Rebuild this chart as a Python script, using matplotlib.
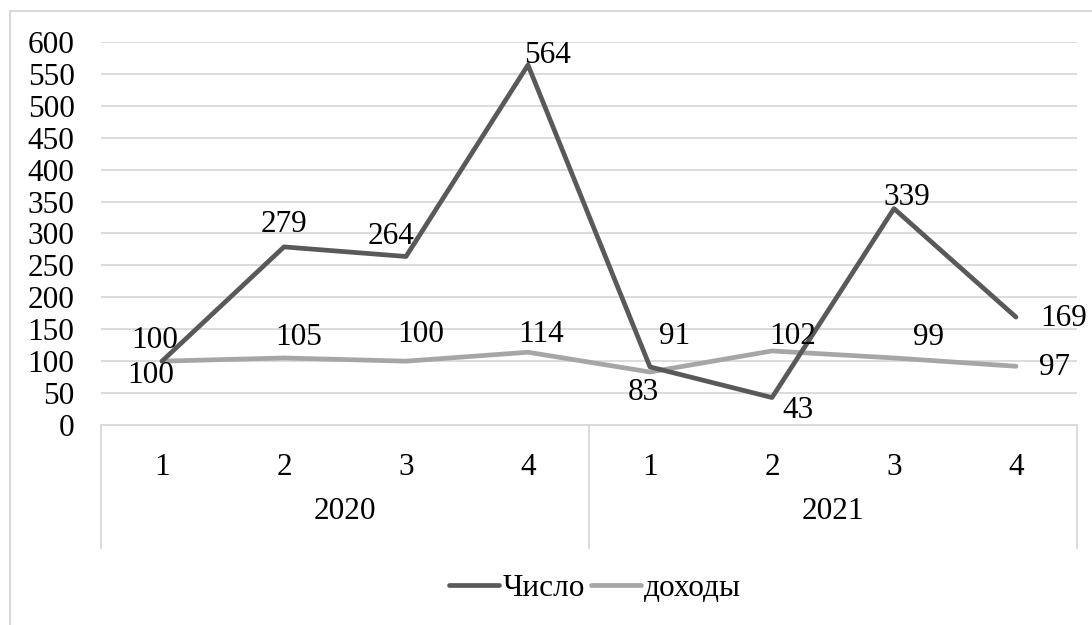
import numpy as np
import matplotlib
matplotlib.use('Agg')
import matplotlib.pyplot as plt
from matplotlib.patches import Rectangle

# data
quarters = ['1', '2', '3', '4', '1', '2', '3', '4']
years = ['2020', '2021']
chislo = [100, 279, 264, 564, 91, 43, 339, 169]
dohody = [100, 105, 100, 114, 83, 116, 105, 92]
chislo_labels = ['100', '279', '264', '564', '91', '43', '339', '169']
dohody_labels = ['100', '105', '100', '114', '83', '102', '99', '97']

# label offsets in pixels (as placed in the original)
chislo_off = [(-7, 21), (0, 22), (-15, 20), (20, 9), (25, 30), (26, -13), (13, 11), (48, -1)]
dohody_off = [(-11, -14), (15, 20), (15, 27), (13, 18), (-7, -20), (21, 14), (34, 20), (39, -1)]

plt.rcParams['font.family'] = ['Liberation Serif', 'DejaVu Serif']
FS = 22.5
dark = '#595959'
light = '#a6a6a6'
grid = '#d9d9d9'

fig = plt.figure(figsize=(10.92, 6.25), dpi=100)
ax = fig.add_axes([101 / 1092, 1 - 425 / 625, 976 / 1092, 383 / 625])

x = np.arange(len(quarters))
ax.plot(x, chislo, color=dark, lw=3.4, label='Число', solid_joinstyle='round', solid_capstyle='round', zorder=3)
ax.plot(x, dohody, color=light, lw=3.4, label='доходы', solid_joinstyle='round', solid_capstyle='round', zorder=2)

for xi, v, t, off in zip(x, chislo, chislo_labels, chislo_off):
    ax.annotate(t, (xi, v), xytext=off, textcoords='offset pixels', ha='center', va='center', fontsize=FS, zorder=4)
for xi, v, t, off in zip(x, dohody, dohody_labels, dohody_off):
    ax.annotate(t, (xi, v), xytext=off, textcoords='offset pixels', ha='center', va='center', fontsize=FS, zorder=4)

ax.set_xlim(-0.5, len(quarters) - 0.5)
ax.set_ylim(0, 600)
ax.set_yticks(np.arange(0, 601, 50))
ax.tick_params(axis='y', length=0, pad=19, labelsize=FS)
ax.yaxis.grid(True, color=grid, lw=1.3)
ax.set_axisbelow(True)
for s in ['top', 'right', 'left']:
    ax.spines[s].set_visible(False)
ax.spines['bottom'].set_color(grid)
ax.spines['bottom'].set_linewidth(1.3)

ax.set_xticks(x)
ax.set_xticklabels(quarters, fontsize=FS)
ax.tick_params(axis='x', length=0, pad=20)

# year group labels and dividers of the category axis
for xd in [0, 0.5, 1]:
    ax.plot([xd, xd], [0, -0.321], transform=ax.transAxes, color=grid, lw=1.3, clip_on=False)
for i, yr in enumerate(years):
    ax.text(0.25 + 0.5 * i, -0.227, yr, transform=ax.transAxes, ha='center', va='center', fontsize=FS)

fig.legend(loc='center', bbox_to_anchor=(595 / 1092, 1 - 588 / 625), ncol=2, frameon=False,
           fontsize=FS, handlelength=1.6, handletextpad=0.1, columnspacing=0.2)

# outer chart border
fig.patches.append(Rectangle((10 / 1092, -0.05), 1.1, 1.05 - 11 / 625, transform=fig.transFigure,
                             fill=False, edgecolor=grid, lw=1.5))

fig.savefig('out.png', dpi=100)
